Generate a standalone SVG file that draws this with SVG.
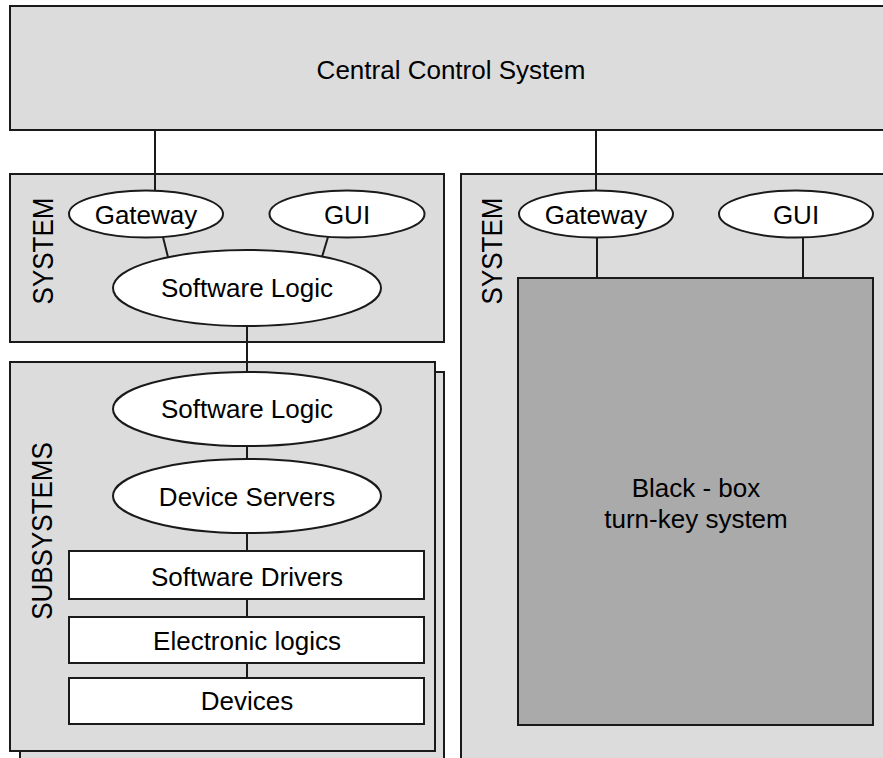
<svg xmlns="http://www.w3.org/2000/svg" width="883" height="758" viewBox="0 0 883 758">
<style>
.box{fill:#dcdcdc;stroke:#1a1a1a;stroke-width:2}
.ell{fill:#ffffff;stroke:#1a1a1a;stroke-width:2}
.wbox{fill:#ffffff;stroke:#1a1a1a;stroke-width:2}
.dark{fill:#aaaaaa;stroke:#1a1a1a;stroke-width:2}
.conn line{stroke:#1a1a1a;stroke-width:2}
text{font-family:"Liberation Sans",Arial,sans-serif;font-size:26px;fill:#000;text-anchor:middle}
</style>
<rect width="883" height="758" fill="#ffffff"/>
<g id="central">
<rect class="box" x="10" y="6" width="890" height="124"/>
<text x="451" y="79">Central Control System</text>
</g>
<g id="system-left">
<rect class="box" x="10" y="174" width="434" height="168"/>
<text transform="translate(53,251) rotate(-90) scale(1,1.12)">SYSTEM</text>
</g>
<g id="system-right">
<rect class="box" x="461" y="174" width="440" height="600"/>
<text transform="translate(502,251) rotate(-90) scale(1,1.12)">SYSTEM</text>
</g>
<g id="subsystems">
<rect class="box" x="20" y="372" width="424" height="400"/>
<rect class="box" x="10" y="362" width="425" height="389"/>
<text transform="translate(52,531) rotate(-90) scale(1,1.12)">SUBSYSTEMS</text>
</g>
<g class="conn" id="connectors">
<line x1="155" y1="130" x2="155" y2="191"/>
<line x1="596" y1="130" x2="596" y2="191"/>
<line x1="163" y1="237" x2="168" y2="257"/>
<line x1="328" y1="237" x2="322" y2="257"/>
<line x1="247" y1="326" x2="247" y2="372"/>
<line x1="247" y1="446" x2="247" y2="459"/>
<line x1="247" y1="533" x2="247" y2="551"/>
<line x1="247" y1="599" x2="247" y2="617"/>
<line x1="247" y1="663" x2="247" y2="678"/>
<line x1="597" y1="237" x2="597" y2="278"/>
<line x1="803" y1="237" x2="803" y2="278"/>
</g>
<g id="gateway-left">
<ellipse class="ell" cx="146" cy="214" rx="77" ry="23.5"/>
<text x="146" y="224">Gateway</text>
</g>
<g id="gui-left">
<ellipse class="ell" cx="347" cy="214" rx="77.5" ry="23.5"/>
<text x="347" y="224">GUI</text>
</g>
<g id="software-logic-system">
<ellipse class="ell" cx="247" cy="288" rx="134" ry="38"/>
<text x="247" y="297">Software Logic</text>
</g>
<g id="software-logic-sub">
<ellipse class="ell" cx="247" cy="409" rx="134" ry="37"/>
<text x="247" y="418">Software Logic</text>
</g>
<g id="device-servers">
<ellipse class="ell" cx="247" cy="496" rx="134" ry="37"/>
<text x="247" y="506">Device Servers</text>
</g>
<g id="software-drivers">
<rect class="wbox" x="69" y="551" width="355" height="48"/>
<text x="247" y="586">Software Drivers</text>
</g>
<g id="electronic-logics">
<rect class="wbox" x="69" y="617" width="355" height="46"/>
<text x="247" y="650">Electronic logics</text>
</g>
<g id="devices">
<rect class="wbox" x="69" y="678" width="355" height="46"/>
<text x="247" y="710">Devices</text>
</g>
<g id="gateway-right">
<ellipse class="ell" cx="596" cy="214" rx="77" ry="23.5"/>
<text x="596" y="224">Gateway</text>
</g>
<g id="gui-right">
<ellipse class="ell" cx="796" cy="214" rx="77" ry="23.5"/>
<text x="796" y="224">GUI</text>
</g>
<g id="black-box">
<rect class="dark" x="518" y="278" width="355" height="447"/>
<text x="696" y="497">Black - box</text>
<text x="696" y="528">turn-key system</text>
</g>
</svg>
